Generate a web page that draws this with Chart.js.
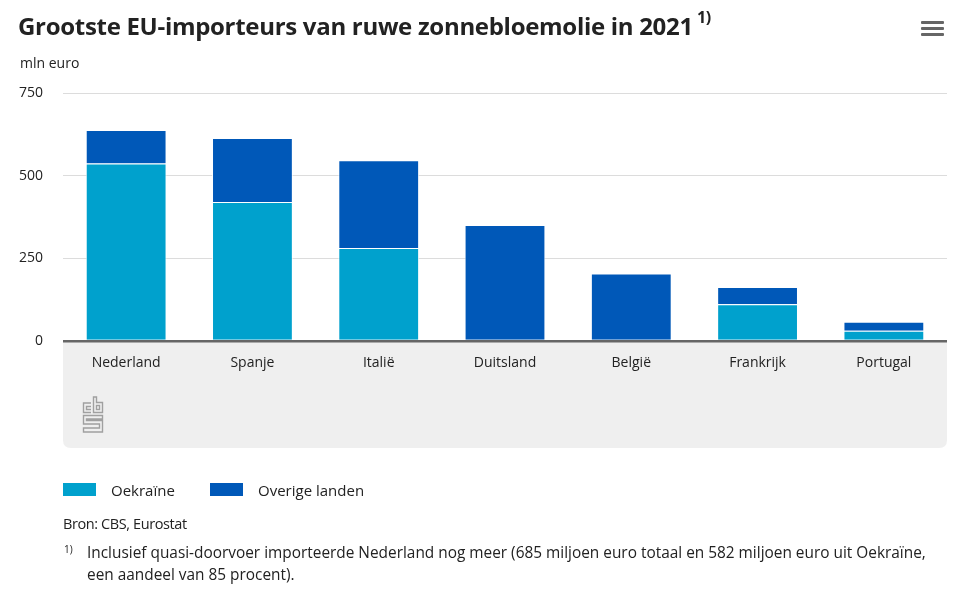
<!DOCTYPE html>
<html>
<head>
<meta charset="utf-8">
<script src="https://cdn.jsdelivr.net/npm/chart.js@4/dist/chart.umd.min.js"></script>
<style>
  body { margin: 0; background: #fff; font-family: "Open Sans", sans-serif; color: #222; }
  #wrap { position: relative; width: 972px; height: 600px; overflow: hidden; }
  #chart { position: absolute; left: 0; top: 0; }
  .t { position: absolute; white-space: nowrap; }
  #title { left: 18px; top: 9px; font-size: 24px; font-weight: 700; letter-spacing: -0.3px; }
  #title sup { font-size: 16px; position: relative; top: -3px; margin-left: 4px; }
  #unit { left: 20px; top: 53px; font-size: 14px; }
  #menu { position: absolute; left: 921px; top: 21px; width: 23px; }
  #menu div { height: 3px; background: #666; margin-bottom: 3px; border-radius: 1px; }
  .sw { position: absolute; width: 33px; height: 13px; }
  .lg { font-size: 15px; top: 480px; }
  #src { left: 63px; top: 514px; font-size: 14.5px; letter-spacing: -0.4px; }
  #fnm { left: 64px; top: 542px; font-size: 10px; }
  #fn { left: 87px; top: 542px; font-size: 15.4px; line-height: 22px; }
  #logo { position: absolute; left: 82px; top: 396px; }
</style>
</head>
<body>
<div id="wrap">
  <canvas id="chart" width="972" height="600"></canvas>
  <div class="t" id="title">Grootste EU-importeurs van ruwe zonnebloemolie in 2021<sup>1)</sup></div>
  <div class="t" id="unit">mln euro</div>
  <div id="menu"><div></div><div></div><div></div></div>
  <svg id="logo" width="22" height="38" viewBox="0 0 22 38">
    <g fill="none" stroke="#a0a0a0" stroke-width="1.4">
      <path d="M9 7H1.5V16.5H9M9 10.5H4.5V13.5H9"/>
      <path d="M11.5 1V16.5H20.5V6.5H14.5V1Z"/>
      <rect x="14.5" y="9.5" width="3" height="4"/>
      <path d="M20.5 19.5H1.5V28H17.5V32H1.5V36H20.5V24.5H4.5V23H20.5Z"/>
    </g>
  </svg>
  <div class="sw" style="left:63px; top:483px; background:#00a1cd;"></div>
  <div class="t lg" style="left:111px;">Oekraïne</div>
  <div class="sw" style="left:210px; top:483px; background:#0058b8;"></div>
  <div class="t lg" style="left:258px;">Overige landen</div>
  <div class="t" id="src">Bron: CBS, Eurostat</div>
  <div class="t" id="fnm">1)</div>
  <div class="t" id="fn">Inclusief quasi-doorvoer importeerde Nederland nog meer (685 miljoen euro totaal en 582 miljoen euro uit Oekraïne,<br>een aandeel van 85 procent).</div>
</div>
<script>
var landen = ["Nederland", "Spanje", "Italië", "Duitsland", "België", "Frankrijk", "Portugal"];
var oekraine = [537, 420, 281, 0, 0, 111, 31];
var overig = [101, 194, 266, 351, 204, 52, 27];
var yTicks = [0, 250, 500, 750];

var greyBox = {
    id: 'greyBox',
    beforeDraw: function(chart) {
        var c = chart.ctx, a = chart.chartArea;
        var x = a.left, y = a.bottom, w = a.right - a.left, h = 448 - a.bottom, r = 8;
        c.save();
        c.fillStyle = '#efefef';
        c.beginPath();
        c.moveTo(x, y);
        c.lineTo(x + w, y);
        c.lineTo(x + w, y + h - r);
        c.quadraticCurveTo(x + w, y + h, x + w - r, y + h);
        c.lineTo(x + r, y + h);
        c.quadraticCurveTo(x, y + h, x, y + h - r);
        c.closePath();
        c.fill();
        c.restore();
    }
};

var ctx = document.getElementById("chart").getContext("2d");
new Chart(ctx, {
    type: 'bar',
    data: {
        labels: landen,
        datasets: [
            {
                label: "Oekraïne",
                backgroundColor: '#00a1cd',
                borderColor: 'rgba(255,255,255,0.8)',
                borderWidth: 1,
                data: oekraine
            },
            {
                label: "Overige landen",
                backgroundColor: '#0058b8',
                borderColor: 'rgba(255,255,255,0.8)',
                borderWidth: 1,
                data: overig
            }
        ]
    },
    options: {
        responsive: false,
        animation: false,
        layout: { padding: { left: 0, top: 93, right: 25, bottom: 152 } },
        plugins: { legend: { display: false }, tooltip: { enabled: false } },
        datasets: { bar: { barPercentage: 0.64, categoryPercentage: 1 } },
        scales: {
            x: {
                stacked: true,
                grid: { display: false, drawTicks: false },
                border: { display: false },
                ticks: { color: '#222', padding: 14, font: { family: 'Open Sans', size: 14 } },
                afterFit: function(s) { s.height = 107; }
            },
            y: {
                stacked: true,
                min: 0,
                max: 750,
                afterBuildTicks: function(s) { s.ticks = yTicks.map(function(v) { return { value: v }; }); },
                grid: {
                    drawTicks: false,
                    color: function(c) { return c.tick && c.tick.value === 0 ? '#666' : '#dcdcdc'; },
                    lineWidth: function(c) { return c.tick && c.tick.value === 0 ? 2.5 : 1; }
                },
                border: { display: false },
                ticks: { color: '#222', padding: 20, font: { family: 'Open Sans', size: 14 } },
                afterFit: function(s) { s.width = 63; }
            }
        }
    },
    plugins: [greyBox]
});
</script>
</body>
</html>
